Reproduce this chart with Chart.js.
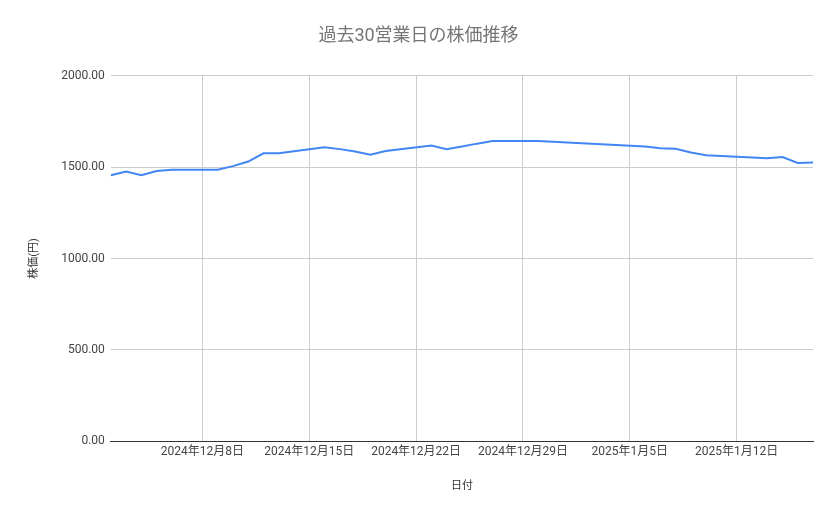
<!DOCTYPE html>
<html>
<head>
<meta charset="utf-8">
<script src="https://cdn.jsdelivr.net/npm/chart.js@4"></script>
<style>
  body { margin: 0; background: #fff; }
  #wrap { width: 839px; height: 519px; }
</style>
</head>
<body>
<div id="wrap"><canvas id="c" width="839" height="519"></canvas></div>
<script>
// days since 2024-12-02 for each business day
const dayIndex = [0, 1, 2, 3, 4, 7, 8, 9, 10, 11, 14, 15, 16, 17, 18, 21, 22, 23, 24, 25, 28, 35, 36, 37, 38, 39, 43, 44, 45, 46];
const prices = [1455, 1475, 1455, 1478, 1485, 1485, 1505, 1530, 1575, 1576, 1608, 1598, 1585, 1568, 1588,
  1618, 1598, 1612, 1628, 1642, 1643, 1612, 1603, 1600, 1580, 1565, 1548, 1555, 1522, 1525];
const tickDays = [6, 13, 20, 27, 34, 41];
const tickLabels = ["2024年12月8日", "2024年12月15日", "2024年12月22日", "2024年12月29日", "2025年1月5日", "2025年1月12日"];

Chart.defaults.font.family = "Roboto, 'Noto Sans CJK JP', sans-serif";
Chart.defaults.color = "#444";

new Chart(document.getElementById("c").getContext("2d"), {
  type: "line",
  data: {
    datasets: [{
      data: dayIndex.map((d, i) => ({ x: d, y: prices[i] })),
      borderColor: "#4285f4",
      borderWidth: 2,
      pointRadius: 0,
      tension: 0
    }]
  },
  options: {
    responsive: false,
    animation: false,
    layout: { padding: { left: 24, right: 26, top: 0, bottom: 22 } },
    plugins: {
      legend: { display: false },
      tooltip: { enabled: false },
      title: {
        display: true,
        text: "過去30営業日の株価推移",
        color: "#757575",
        font: { size: 18, weight: "normal" },
        padding: { top: 26, bottom: 28 }
      }
    },
    scales: {
      x: {
        type: "linear",
        min: 0,
        max: 46,
        afterBuildTicks: (axis) => { axis.ticks = tickDays.map((v) => ({ value: v })); },
        ticks: {
          autoSkip: false,
          maxRotation: 0,
          font: { size: 12 },
          color: "#444",
          callback: (v) => tickLabels[tickDays.indexOf(v)] || ""
        },
        grid: { color: "#ccc", drawTicks: false },
        border: { color: "#333" },
        title: { display: true, text: "日付", font: { size: 11 }, color: "#333", padding: { top: 18 } }
      },
      y: {
        min: 0,
        max: 2000,
        ticks: { stepSize: 500, font: { size: 12 }, color: "#444", padding: 6, callback: (v) => v.toFixed(2) },
        grid: { color: "#ccc", drawTicks: false },
        border: { display: false },
        title: { display: true, text: "株価(円)", font: { size: 11 }, color: "#333", padding: { bottom: 14 } }
      }
    }
  }
});
</script>
</body>
</html>
